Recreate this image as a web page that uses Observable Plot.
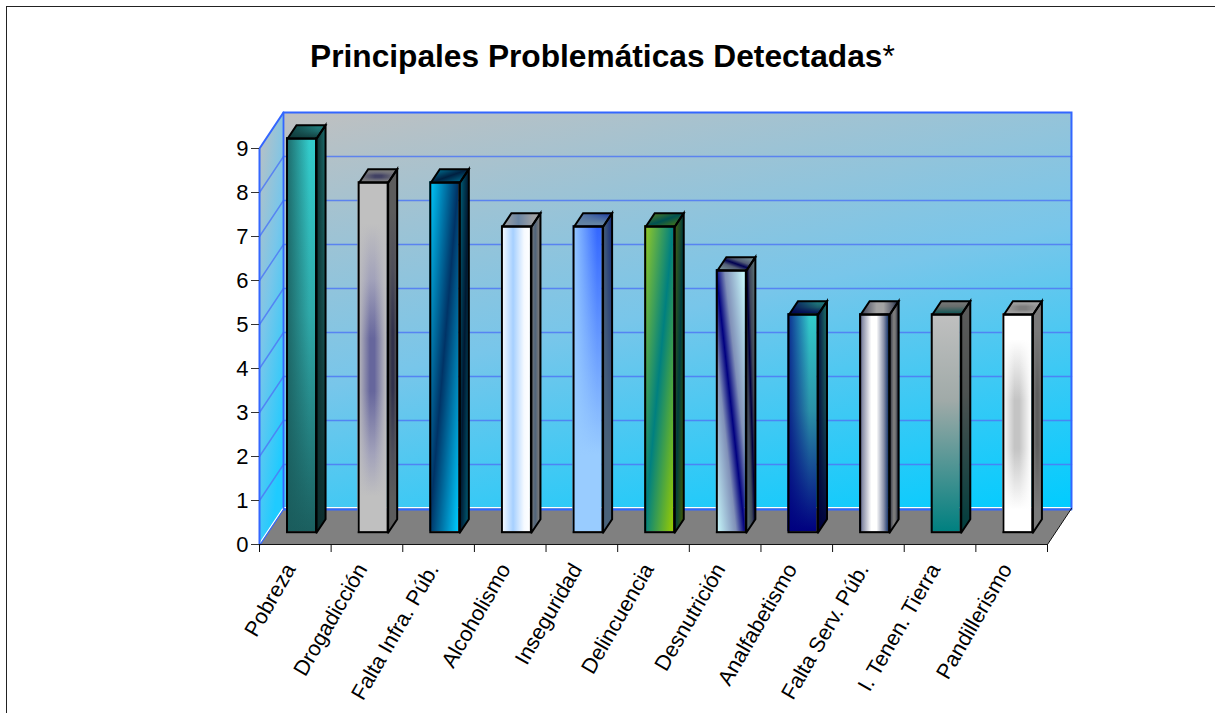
<!DOCTYPE html>
<html><head><meta charset="utf-8">
<script src="https://cdn.jsdelivr.net/npm/d3@7"></script>
<script src="https://cdn.jsdelivr.net/npm/@observablehq/plot@0.6"></script>
<style>
html,body{margin:0;padding:0;background:#fff;overflow:hidden}
#frame{position:absolute;left:6px;top:6px;width:1300px;height:800px;border:1.5px solid #222;box-sizing:border-box}
#wrap{position:absolute;left:0;top:0;width:1215px;height:713px;overflow:hidden}
#title{height:100px;box-sizing:border-box;padding:40px 0 0 310px;font:bold 31.7px/32px "Liberation Sans",Arial,sans-serif;color:#000;white-space:nowrap}
#title span{font-weight:normal}
svg{display:block}
</style></head><body>
<div id="wrap"><div id="frame"></div><div style="position:absolute;left:0;top:0;width:1215px">
<div id="title">Principales Problemáticas Detectadas<span>*</span></div>
<div id="chart"></div></div></div>
<script>
const categories=["Pobreza","Drogadicción","Falta Infra. Púb.","Alcoholismo","Inseguridad","Delincuencia","Desnutrición","Analfabetismo","Falta Serv. Púb.","I. Tenen. Tierra","Pandillerismo"];
const values=[9,8,8,7,7,7,6,5,5,5,5];
const yTicks=[0,1,2,3,4,5,6,7,8,9];
const xTicks=d3.range(categories.length+1);

// oblique projection, in data units
const wallX=0.335, wallY=0.818;
const barLeft=0.391, barWidth=0.405, baseLift=0.268, topLift=0.223, sideX=0.126, sideY=0.307;

const H=[0,0,1,0], V=[0,0,0,1], DOWN=[0,0,1,1], UP=[0,1,1,0];
// gradient layers for each bar: [direction, [offset,color,opacity?]...]
const barFills=[
 [[V,[0,"#33cccc"],[.45,"#2fa8a8"],[1,"#1b5f5f"]],[H,[0,"#1a5c5c",.9],[.8,"#1a5c5c",0]]],
 [[V,[0,"#c0c0c0"],[.12,"#c0c0c0"],[.28,"#a2a2ba"],[.45,"#66669c"],[.6,"#66669c"],[.78,"#a2a2ba"],[.9,"#c0c0c0"],[1,"#c0c0c0"]],[H,[0,"#c0c0c0",1],[.42,"#c0c0c0",0],[.58,"#c0c0c0",0],[1,"#c0c0c0",1]]],
 [[DOWN,[0,"#00ccff"],[.5,"#003366"],[1,"#00ccff"]]],
 [[H,[0,"#ffffff"],[.42,"#a6d0ff"],[.8,"#f6faff"],[1,"#ffffff"]]],
 [[V,[0,"#3366ff"],[.75,"#99ccff"],[1,"#99ccff"]],[H,[0,"#99ccff",1],[.85,"#99ccff",0]]],
 [[DOWN,[0,"#99cc22"],[.5,"#008080"],[1,"#99cc00"]]],
 [[UP,[0,"#ccffff"],[.35,"#8090b8"],[.5,"#000080"],[.65,"#8090b8"],[1,"#ccffff"]]],
 [[V,[0,"#33cccc"],[.45,"#2a90a8"],[1,"#000080"]],[H,[0,"#000080",.8],[.75,"#000080",0]]],
 [[H,[0,"#26305f"],[.12,"#8a90a8"],[.42,"#ffffff"],[.6,"#ffffff"],[.85,"#8890a8"],[1,"#1c3a70"]]],
 [[V,[0,"#c0c0c0"],[.4,"#a0aaa8"],[1,"#008080"]]],
 [[V,[0,"#ffffff"],[.12,"#ffffff"],[.4,"#c4c4c4"],[.62,"#c4c4c4"],[.9,"#ffffff"],[1,"#ffffff"]],[H,[0,"#ffffff",1],[.42,"#ffffff",0],[.58,"#ffffff",0],[1,"#ffffff",1]]]
];
const SIDE_SHADE=.52, TOP_SHADE=.36;

function defs(){
  const d=d3.create("svg:defs");
  const add=(id,dir,stops)=>{
    const g=d.append("linearGradient").attr("id",id)
      .attr("x1",dir[0]).attr("y1",dir[1]).attr("x2",dir[2]).attr("y2",dir[3]);
    for(const [o,c,a] of stops) g.append("stop").attr("offset",o).attr("stop-color",c).attr("stop-opacity",a??1);
  };
  barFills.forEach((layers,i)=>layers.forEach(([dir,...stops],j)=>add(`bar${i}l${j}`,dir,stops)));
  add("backWall",[0,0,.517,1.207],[[0,"#c0c0c0"],[.5,"#78c6ea"],[1,"#00ccff"]]);
  add("leftWall",[0,0,.45,1],[[0,"#c0c0c0"],[.5,"#78c6ea"],[1,"#1fcbff"]]);
  return d.node();
}

const poly=(pts,o)=>Plot.line(pts,{x:p=>p[0],y:p=>p[1],strokeLinejoin:"miter",strokeMiterlimit:8,...o});
const closed=pts=>[...pts,pts[0]];
const n=categories.length, yMax=yTicks[yTicks.length-1];

const marks=[defs];
// walls and floor
marks.push(poly(closed([[0,0],[wallX,wallY],[wallX,yMax+wallY],[0,yMax]]),{fill:"url(#leftWall)",stroke:"none"}));
marks.push(poly(closed([[wallX,wallY],[n+wallX,wallY],[n+wallX,yMax+wallY],[wallX,yMax+wallY]]),{fill:"url(#backWall)",stroke:"none"}));
marks.push(poly(closed([[0,0],[n,0],[n+wallX,wallY],[wallX,wallY]]),{fill:"#808080",stroke:"none"}));
// gridlines
for(const t of yTicks.slice(1,-1)){
  marks.push(poly([[0,t],[wallX,t+wallY],[n+wallX,t+wallY]],{stroke:"#4f78f5",strokeWidth:1.4,strokeOpacity:.85}));
}
marks.push(poly([[n+wallX,wallY],[wallX,wallY]],{stroke:"#3366ff",strokeWidth:1.8,dy:1}));
marks.push(poly([[n+wallX,wallY],[wallX,wallY],[0,0]],{stroke:"#ffffff",strokeWidth:1.2,dy:-1}));
marks.push(poly([[0,0],[0,yMax],[wallX,yMax+wallY],[n+wallX,yMax+wallY],[n+wallX,wallY]],{stroke:"#3366ff",strokeWidth:2}));
marks.push(poly([[wallX,wallY],[wallX,yMax+wallY]],{stroke:"#3366ff",strokeWidth:1.8}));
marks.push(poly([[wallX,wallY],[0,0]],{stroke:"#3366ff",strokeWidth:1.2,dx:.8}));
marks.push(poly([[0,0],[n,0],[n+wallX,wallY]],{stroke:"#111",strokeWidth:1}));

// bars
categories.forEach((c,i)=>{
  const v=values[i], x1=i+barLeft, x2=x1+barWidth, y1=baseLift, y2=v+topLift;
  const side=closed([[x2,y1],[x2+sideX,y1+sideY],[x2+sideX,y2+sideY],[x2,y2]]);
  const cap=closed([[x1,y2],[x2,y2],[x2+sideX,y2+sideY],[x1+sideX,y2+sideY]]);
  const layers=barFills[i].map((_,j)=>`url(#bar${i}l${j})`);
  for(const f of layers) marks.push(poly(side,{fill:f,stroke:"none"}));
  marks.push(poly(side,{fill:"#000",fillOpacity:SIDE_SHADE,stroke:"none"}));
  for(const f of layers) marks.push(poly(cap,{fill:f,stroke:"none"}));
  marks.push(poly(cap,{fill:"#000",fillOpacity:TOP_SHADE,stroke:"none"}));
  const row=[{c,v}];
  for(const f of layers) marks.push(Plot.rect(row,{x1:()=>x1,x2:()=>x2,y1:()=>y1,y2:()=>y2,fill:f,dx:-1,dy:-1,title:d=>`${d.c}: ${d.v}`}));
  marks.push(poly(side,{stroke:"#000",strokeWidth:2}));
  marks.push(poly(cap,{stroke:"#000",strokeWidth:2}));
  marks.push(Plot.rect(row,{x1:()=>x1,x2:()=>x2,y1:()=>y1,y2:()=>y2,fill:"none",stroke:"#000",strokeWidth:2}));
});

// axes
marks.push(Plot.axisY({ticks:yTicks,tickSize:8,tickPadding:3,label:null,fontSize:22,stroke:"#333",fill:"#000"}));
marks.push(Plot.axisX({ticks:xTicks,tickSize:8,tickFormat:()=>"",label:null,stroke:"#111"}));
marks.push(Plot.text(categories,{x:(d,i)=>i+.5,y:()=>0,text:d=>d,rotate:-60,textAnchor:"end",fontSize:21.5,dx:-5,dy:21,fill:"#000"}));

const chart=Plot.plot({
  width:1215,height:613,marginLeft:259,marginRight:168,marginTop:48,marginBottom:169,
  style:{fontFamily:'"Liberation Sans",Arial,sans-serif',background:"transparent",overflow:"visible"},
  x:{domain:[0,n],axis:null},y:{domain:[0,yMax],axis:null},
  marks
});
document.getElementById("chart").append(chart);
</script></body></html>
